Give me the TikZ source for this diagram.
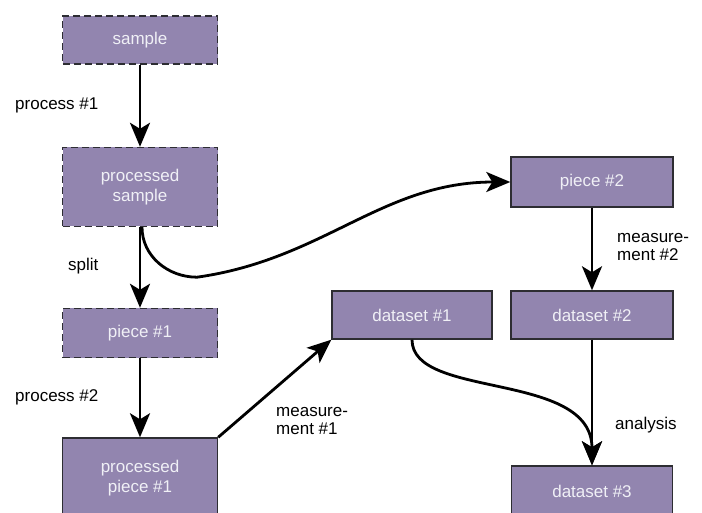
\documentclass[tikz,border=0pt]{standalone}
\usepackage{fontspec}
\setmainfont{Liberation Sans}
\usetikzlibrary{arrows.meta}
\definecolor{boxfill}{RGB}{146,133,175}
\definecolor{boxline}{RGB}{45,45,50}
\definecolor{boxtext}{RGB}{240,240,246}

\begin{document}
\begin{tikzpicture}[x=1pt,y=-1pt,
    box/.style={draw=boxline,line width=1.4pt,fill=boxfill,text=boxtext,align=center,inner sep=0pt,font=\fontsize{17}{20}\selectfont},
    dbox/.style={box,dash pattern=on 7pt off 4pt},
    lbl/.style={anchor=west,align=left,inner sep=0pt,font=\fontsize{17}{18.5}\selectfont},
    arr/.style={line width=2.8pt,-{Stealth[length=24pt,width=20pt,inset=6pt]}}]
    \useasboundingbox (0,0) rectangle (702,513);
    \clip (0,0) rectangle (702,513);
    \node[dbox,minimum width=155pt,minimum height=48pt] (sample) at (140,40) {sample};
    \node[dbox,minimum width=155pt,minimum height=79pt] (procsample) at (140,187) {processed\\sample};
    \node[dbox,minimum width=155pt,minimum height=49pt] (piece1) at (140,333) {piece \#1};
    \node[box,minimum width=155pt,minimum height=80pt] (procpiece1) at (140,478) {processed\\piece \#1};
    \node[box,minimum width=162pt,minimum height=50pt] (piece2) at (592,182) {piece \#2};
    \node[box,minimum width=160pt,minimum height=48pt] (data1) at (412,315) {dataset \#1};
    \node[box,minimum width=162pt,minimum height=48pt] (data2) at (592,315) {dataset \#2};
    \node[box,minimum width=161pt,minimum height=50pt] (data3) at (592,491) {dataset \#3};

    \node[lbl] (lproc1) at (15,105) {process \#1};
    \node[lbl] (lsplit) at (68,266) {split};
    \node[lbl] (lproc2) at (15,397) {process \#2};
    \node[lbl] (lmeas1) at (276,421) {measure-\\ment \#1};
    \node[lbl] (lmeas2) at (617,247) {measure-\\ment \#2};
    \node[lbl] (lanal) at (615,425) {analysis};

    \draw[arr] (sample) -- (procsample);
    \draw[arr] (procsample) -- (piece1);
    \draw[arr] ([xshift=2pt]procsample.south) to[out=-90,in=180] ++(55,50) to[out=8,in=180] (piece2.west);
    \draw[arr] (piece1) -- (procpiece1);
    \draw[arr] (procpiece1.north east) -- (data1.south west);
    \draw[arr] (piece2) -- (data2);
    \draw[arr] (data2) -- (data3);
    \draw[arr] (data1.south) .. controls +(0,60) and +(0,-95) .. (data3.north);
\end{tikzpicture}
\end{document}
